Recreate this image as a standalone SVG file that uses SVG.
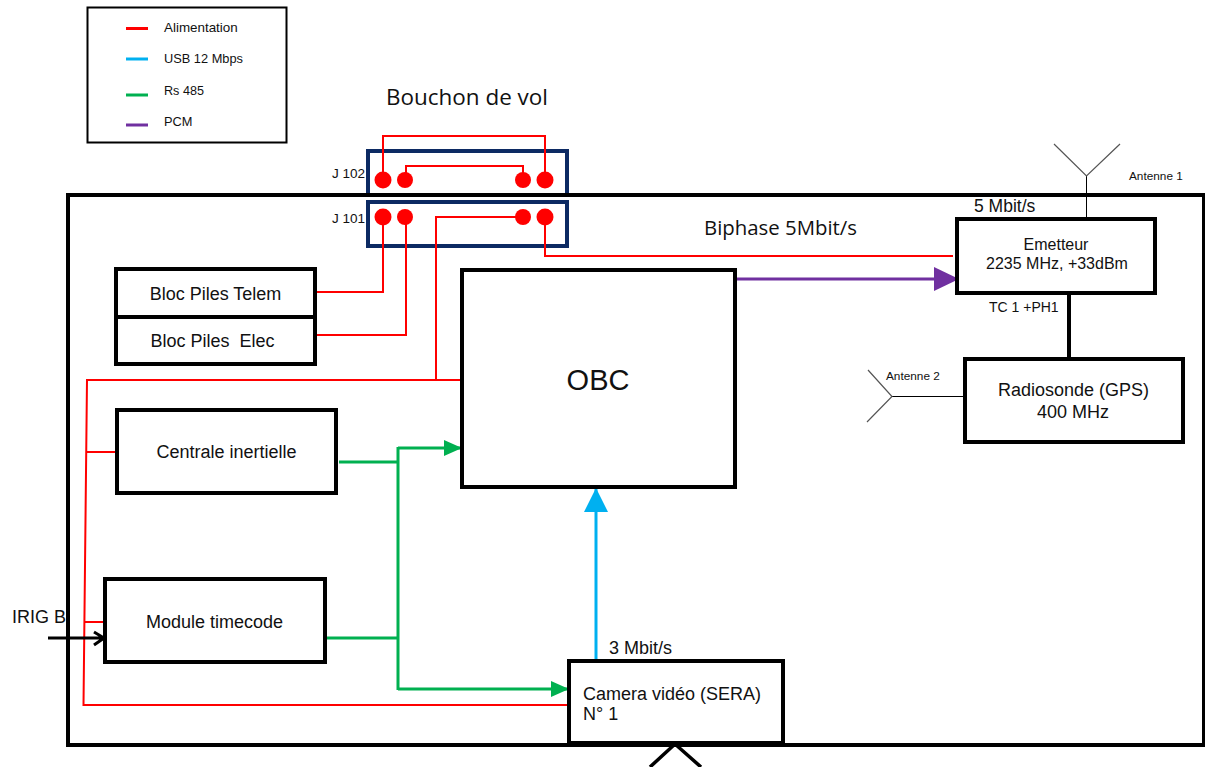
<svg xmlns="http://www.w3.org/2000/svg" width="1205" height="767" viewBox="0 0 1205 767">
<defs>
<marker id="ag" markerUnits="userSpaceOnUse" markerWidth="18" markerHeight="16" refX="17" refY="8" orient="auto"><path d="M0 0L18 8L0 16z" fill="#00b050"/></marker>
<marker id="ab" markerUnits="userSpaceOnUse" markerWidth="24" markerHeight="24" refX="23" refY="12" orient="auto"><path d="M0 0L24 12L0 24z" fill="#00b0f0"/></marker>
<marker id="ap" markerUnits="userSpaceOnUse" markerWidth="25" markerHeight="24" refX="24" refY="12" orient="auto"><path d="M0 0L25 12L0 24z" fill="#7030a0"/></marker>
</defs>
<style>
text{font-family:"Liberation Sans",Arial,sans-serif;fill:#111}
.box{fill:#fff;stroke:#000;stroke-width:4}
.conn{fill:none;stroke:#0c2a63;stroke-width:4}
.r{fill:none;stroke:#f00;stroke-width:2}
.g{fill:none;stroke:#00b050;stroke-width:3}
.k{fill:none;stroke:#000}
.a{fill:none;stroke:#555;stroke-width:1.2}
.pin{fill:#f00}
.m{text-anchor:middle}
</style>
<g id="legend">
<rect x="87.500" y="7.500" width="199" height="135" fill="#fff" stroke="#000" stroke-width="2"/>
<path d="M126 28.500H148" stroke="#f00" stroke-width="3"/><text x="164" y="32" font-size="13.400">Alimentation</text>
<path d="M126 59H148" stroke="#00b0f0" stroke-width="3"/><text x="164" y="63" font-size="12.800">USB 12 Mbps</text>
<path d="M126 95H148" stroke="#00b050" stroke-width="3"/><text x="164" y="95" font-size="12.600">Rs 485</text>
<path d="M126 125H148" stroke="#7030a0" stroke-width="3"/><text x="164" y="126" font-size="12.800">PCM</text>
</g>
<text id="title" x="386" y="105" font-size="21" style="font-family:'Open Sans','Liberation Sans',sans-serif" textLength="162" lengthAdjust="spacingAndGlyphs">Bouchon de vol</text>
<g id="j102"><rect class="conn" x="368" y="151" width="199" height="44"/><text x="332" y="178" font-size="13.500">J 102</text></g>
<g id="j101"><rect class="conn" x="368" y="202" width="199" height="44"/><text x="332" y="223" font-size="13.500">J 101</text></g>
<rect id="frame" x="68" y="195" width="1136" height="550" fill="none" stroke="#000" stroke-width="4"/>
<g id="connectors">
<path class="r" d="M383 180V136H545V180M406 180V166H523V180"/>
<path class="r" d="M383 217V292H316M406 217V335H316M523 217H436V380M462 380H87L83.500 705H569M86.500 452H117M85 622H105M545 217V256H953"/>
<path class="g" d="M339 462H398M326 638H398M398 447V690"/>
<path class="g" marker-end="url(#ag)" d="M398 448H461"/>
<path class="g" marker-end="url(#ag)" d="M398 689H568"/>
<path fill="none" stroke="#00b0f0" stroke-width="3" marker-end="url(#ab)" d="M596 660V489"/>
<path fill="none" stroke="#7030a0" stroke-width="3" marker-end="url(#ap)" d="M736 279H958"/>
<path fill="none" stroke="#000" stroke-width="4" d="M1069 293V359"/>
<path class="k" stroke-width="1" d="M1086.500 176V219"/>
<path class="a" d="M1054 144L1086.500 176L1120 144"/>
<path class="k" stroke-width="1" d="M892 396.500H964"/>
<path class="a" d="M868 370L892 396.500L867 422"/>
<path class="k" stroke-width="3" d="M48 638H104M94 632L104 638L94 645"/>
<path class="k" stroke-width="3.500" d="M650 767L675 744L701 767"/>
</g>
<g fill="#f00">
<circle class="pin" cx="383" cy="180" r="8.500"/><circle class="pin" cx="405" cy="180" r="8"/><circle class="pin" cx="523" cy="180" r="8"/><circle class="pin" cx="545" cy="180" r="8.500"/>
<circle class="pin" cx="383" cy="217" r="8.500"/><circle class="pin" cx="405" cy="217" r="8"/><circle class="pin" cx="523" cy="217" r="8"/><circle class="pin" cx="545" cy="217" r="8.500"/>
</g>
<g id="bloc-telem"><rect class="box" x="116" y="269" width="199" height="48"/><text class="m" x="215.500" y="300" font-size="18">Bloc Piles  Telem</text></g>
<g id="bloc-elec"><rect class="box" x="116" y="317" width="199" height="47"/><text class="m" x="212.500" y="347" font-size="18" xml:space="preserve">Bloc Piles  Elec</text></g>
<g id="obc"><rect class="box" x="462" y="270" width="273" height="217"/><text class="m" x="598" y="390" font-size="29">OBC</text></g>
<g id="centrale"><rect class="box" x="117" y="410" width="219" height="83"/><text class="m" x="226.500" y="458" font-size="18">Centrale inertielle</text></g>
<g id="timecode"><rect class="box" x="105" y="579" width="220" height="83"/><text class="m" x="214.500" y="628" font-size="18">Module timecode</text></g>
<g id="camera"><rect class="box" x="569" y="661" width="214" height="82"/><text x="583" y="700" font-size="18">Camera vidéo (SERA)</text><text x="583" y="720" font-size="18">N° 1</text></g>
<g id="emetteur"><rect class="box" x="957" y="219" width="198" height="74"/><text class="m" x="1056" y="250" font-size="16">Emetteur</text><text class="m" x="1057" y="269" font-size="16">2235 MHz, +33dBm</text></g>
<g id="radiosonde"><rect class="box" x="965" y="359" width="218" height="83"/><text class="m" x="1073.500" y="396" font-size="18">Radiosonde (GPS)</text><text class="m" x="1073" y="418" font-size="18">400 MHz</text></g>
<text x="704" y="235" font-size="20" style="font-family:'Open Sans','Liberation Sans',sans-serif" textLength="153" lengthAdjust="spacingAndGlyphs">Biphase 5Mbit/s</text>
<text x="974" y="212" font-size="17.500">5 Mbit/s</text>
<text x="989" y="312" font-size="14">TC 1 +PH1</text>
<text x="1129" y="180" font-size="11.800">Antenne 1</text>
<text x="886" y="380" font-size="11.800">Antenne 2</text>
<text x="609" y="654" font-size="18">3 Mbit/s</text>
<text x="12" y="623" font-size="18">IRIG B</text>
</svg>
